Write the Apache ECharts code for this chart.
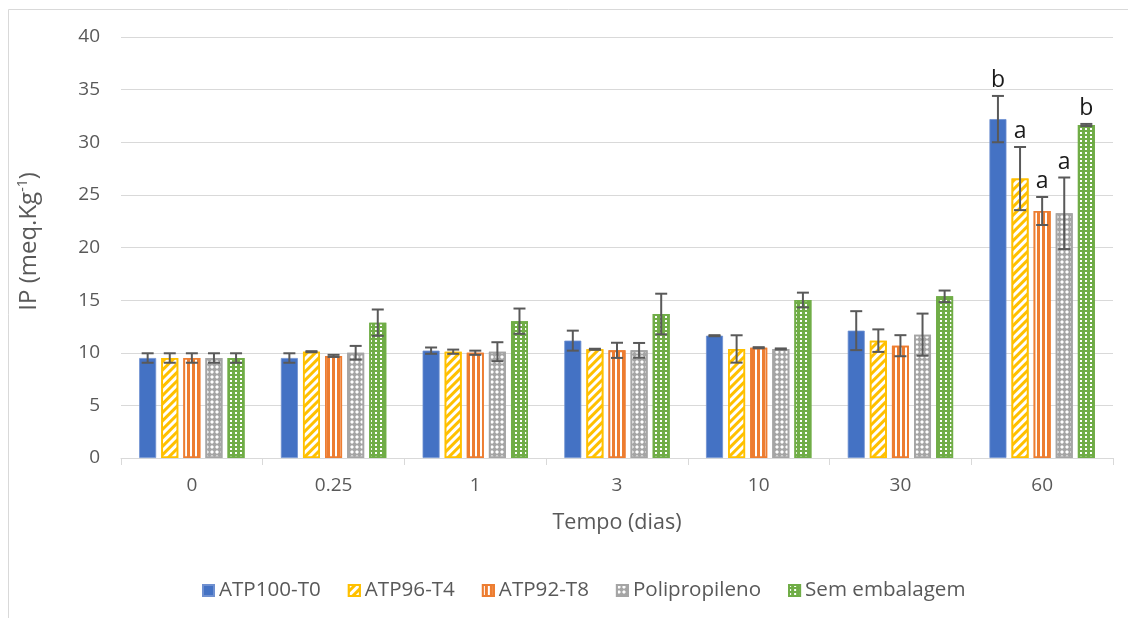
<!DOCTYPE html>
<html>
<head>
<meta charset="utf-8">
<script src="https://cdn.jsdelivr.net/npm/echarts@6/dist/echarts.min.js"></script>
<style>html,body{margin:0;padding:0;background:#fff}#c{width:1128px;height:618px}</style>
</head>
<body>
<div id="c"></div>
<script>
var categories = ['0', '0.25', '1', '3', '10', '30', '60'];
var seriesNames = ['ATP100-T0', 'ATP96-T4', 'ATP92-T8', 'Polipropileno', 'Sem embalagem'];
var atp100 = [9.5, 9.5, 10.2, 11.15, 11.62, 12.1, 32.2];
var atp100Err = [0.45, 0.45, 0.3, 0.95, 0.05, 1.85, 2.2];
var atp96 = [9.5, 10.1, 10.1, 10.33, 10.36, 11.15, 26.55];
var atp96Err = [0.45, 0.05, 0.2, 0.05, 1.3, 1.07, 3.0];
var atp92 = [9.5, 9.7, 10.0, 10.23, 10.48, 10.67, 23.47];
var atp92Err = [0.45, 0.1, 0.2, 0.72, 0.05, 1.0, 1.33];
var polip = [9.5, 10.0, 10.1, 10.23, 10.36, 11.72, 23.25];
var polipErr = [0.45, 0.65, 0.9, 0.7, 0.05, 2.0, 3.4];
var semEmb = [9.5, 12.86, 13.0, 13.68, 15.01, 15.36, 31.64];
var semEmbErr = [0.45, 1.25, 1.2, 1.93, 0.7, 0.55, 0.1];
var letters60 = ['b', 'a', 'a', 'a', 'b'];
var yTicks = [0, 5, 10, 15, 20, 25, 30, 35, 40];

var values = [atp100, atp96, atp92, polip, semEmb];
var errors = [atp100Err, atp96Err, atp92Err, polipErr, semEmbErr];

var FONT = 'Open Sans';
var BW = 17, GAPR = 0.3;
var colors = ['#4472c4', '#ffc000', '#ed7d31', '#a5a5a5', '#70ad47'];
var decals = [
  null,
  {symbol: 'rect', symbolSize: 1, color: '#ffffff', dashArrayX: [1, 0], dashArrayY: [2.5, 2.5], rotation: -Math.PI / 4},
  {symbol: 'rect', symbolSize: 1, color: '#ffffff', dashArrayX: [1.8, 2.2], dashArrayY: [1, 0], rotation: 0},
  {symbol: 'diamond', symbolSize: 1, color: '#ffffff', dashArrayX: [3.5, 1], dashArrayY: [3.5, 1], rotation: 0},
  {symbol: 'rect', symbolSize: 1, color: '#ffffff', dashArrayX: [1.5, 3], dashArrayY: [1.5, 1.5], rotation: 0}
];

var chart = echarts.init(document.getElementById('c'), null, {renderer: 'canvas'});
var series = [];
for (var i = 0; i < 5; i++) {
  var st = {color: colors[i]};
  if (i > 0) { st.borderColor = colors[i]; st.borderWidth = 1.8; st.decal = decals[i]; }
  else { st.borderColor = '#6f90d0'; st.borderWidth = 0.8; }
  series.push({
    name: seriesNames[i], type: 'bar', data: values[i], barWidth: BW, barGap: (GAPR * 100) + '%',
    itemStyle: st, emphasis: {disabled: true}, animation: false
  });
}
for (var k = 0; k < 5; k++) {
  (function (si) {
    var d = [];
    for (var j = 0; j < categories.length; j++) {
      d.push([j, values[si][j], errors[si][j], j === categories.length - 1 ? letters60[si] : '']);
    }
    series.push({
      name: 'err' + si, type: 'custom', data: d, z: 10, animation: false, silent: true,
      encode: {x: 0, y: 1},
      renderItem: function (params, api) {
        var cat = api.value(0), m = api.value(1), e = api.value(2);
        var lab = d[params.dataIndex][3];
        var gap = BW * GAPR;
        var total = 5 * BW + 4 * gap;
        var c = api.coord([cat, m]);
        var x = c[0] - total / 2 + si * (BW + gap) + BW / 2;
        var top = api.coord([cat, m + e])[1];
        var bot = api.coord([cat, m - e])[1];
        var hw = 6;
        var ls = {stroke: '#595959', lineWidth: 2};
        var ch = [
          {type: 'line', shape: {x1: x, y1: top, x2: x, y2: bot}, style: ls},
          {type: 'line', shape: {x1: x - hw, y1: top, x2: x + hw, y2: top}, style: ls},
          {type: 'line', shape: {x1: x - hw, y1: bot, x2: x + hw, y2: bot}, style: ls}
        ];
        if (lab) {
          ch.push({type: 'text', style: {text: lab, x: x, y: top - 4, align: 'center', verticalAlign: 'bottom',
            fontFamily: FONT, fontSize: 23, fill: '#1a1a1a'}});
        }
        return {type: 'group', children: ch};
      }
    });
  })(k);
}

chart.setOption({
  animation: false,
  backgroundColor: '#ffffff',
  graphic: [{type: 'rect', shape: {x: 8.5, y: 9.5, width: 1200, height: 700}, style: {fill: 'none', stroke: '#d9d9d9', lineWidth: 1}, silent: true}],
  grid: {left: 121, right: 15, top: 37, bottom: 160, containLabel: false},
  legend: {
    data: seriesNames, bottom: 12, left: 197, itemWidth: 11, itemHeight: 11, itemGap: 27,
    icon: 'rect',
    textStyle: {fontFamily: FONT, fontSize: 20.6, color: '#595959'}
  },
  xAxis: {
    type: 'category', data: categories,
    name: 'Tempo (dias)', nameLocation: 'middle', nameGap: 54,
    nameTextStyle: {fontFamily: FONT, fontSize: 21.5, color: '#595959'},
    axisLine: {lineStyle: {color: '#d9d9d9', width: 1}},
    axisTick: {show: true, length: 7, lineStyle: {color: '#d9d9d9'}},
    axisLabel: {fontFamily: FONT, fontSize: 19, color: '#595959', margin: 18}
  },
  yAxis: {
    type: 'value', min: yTicks[0], max: yTicks[yTicks.length - 1], interval: 5,
    name: '{n|IP (meq.Kg}{s|-1}{n|)}', nameLocation: 'middle', nameGap: 79, nameRotate: 90,
    nameTextStyle: {padding: [0, 0, 0, 12], rich: {n: {fontFamily: FONT, fontSize: 24, color: '#595959'}, s: {fontFamily: FONT, fontSize: 14, color: '#595959', verticalAlign: 'top', padding: [0, 0, 12, 0]}}},
    axisLine: {show: false}, axisTick: {show: false},
    splitLine: {lineStyle: {color: '#d9d9d9', width: 1}},
    axisLabel: {fontFamily: FONT, fontSize: 19, color: '#595959', margin: 21}
  },
  series: series
});
</script>
</body>
</html>
